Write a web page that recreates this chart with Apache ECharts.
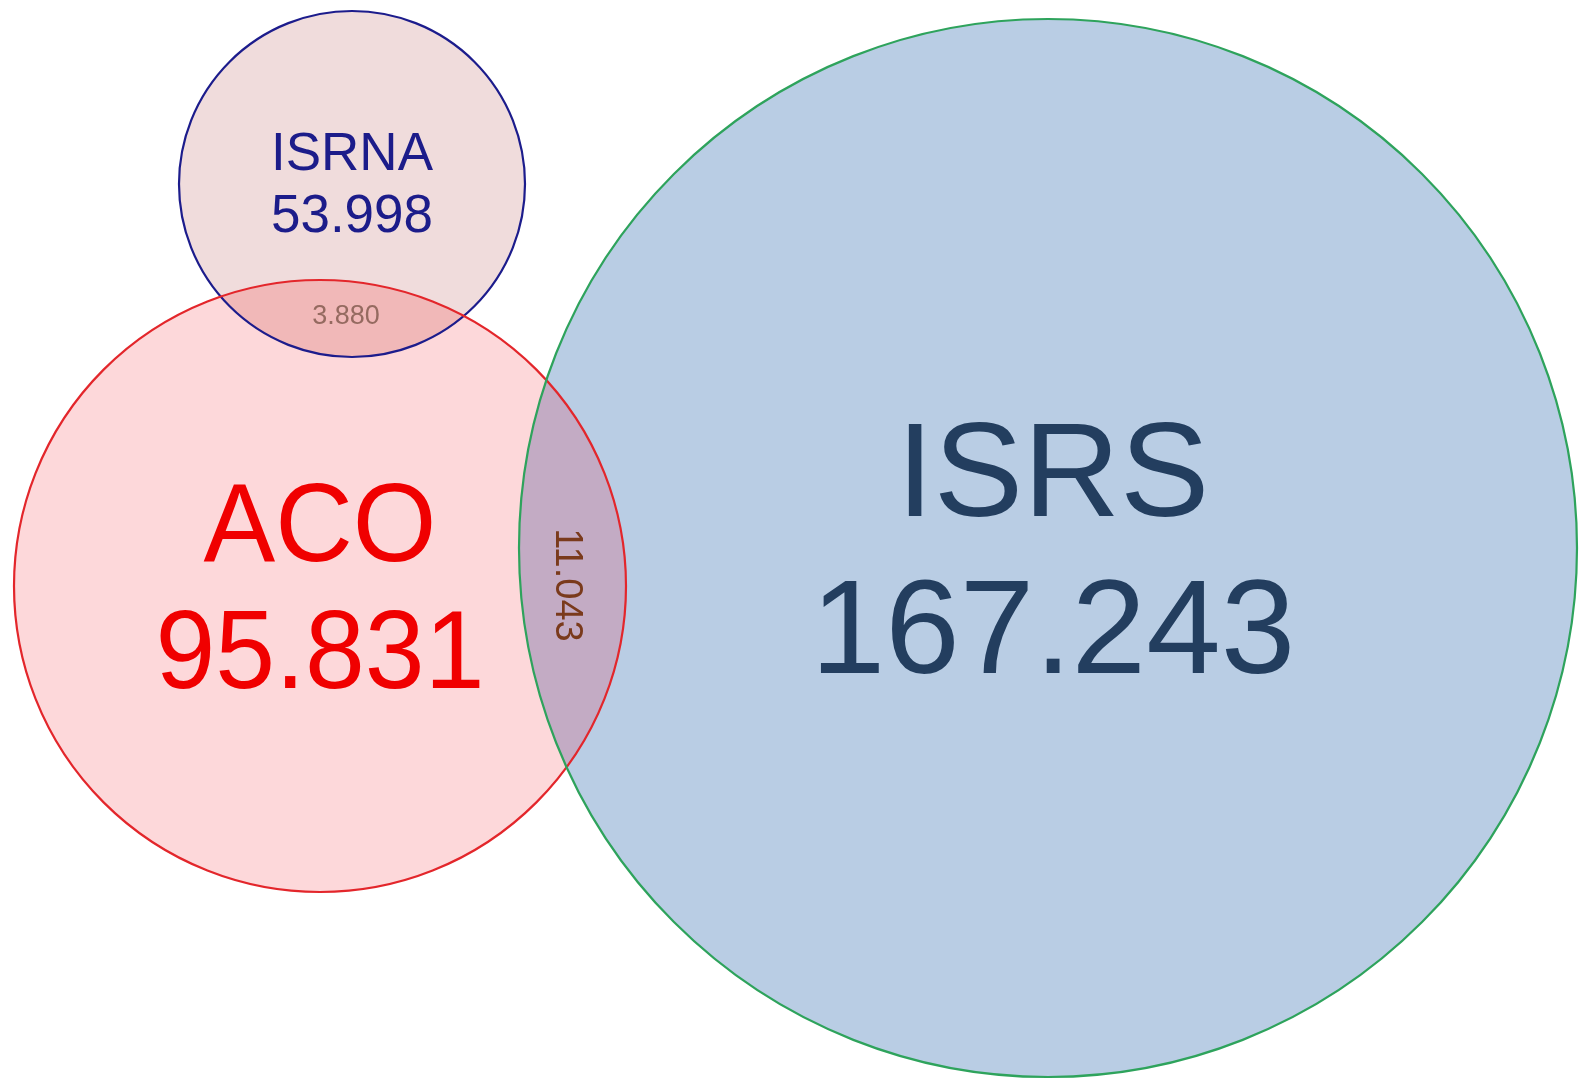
<!DOCTYPE html>
<html>
<head>
<meta charset="utf-8">
<script src="https://cdn.jsdelivr.net/npm/echarts@6/dist/echarts.min.js"></script>
<style>
html,body{margin:0;padding:0;background:#fff;}
#chart{width:1579px;height:1083px;}
</style>
</head>
<body>
<div id="chart"></div>
<script>
// ---- data ----
const setNames = ['ISRNA', 'ACO', 'ISRS'];
const setValues = [53998, 95831, 167243];
const overlapPairs = [[0, 1], [1, 2]];
const overlapValues = [3880, 11043];

// ---- layout (pixel units of hidden axes) ----
const circleLayout = [
  { cx: 352, cy: 184, r: 173 },
  { cx: 320, cy: 586, r: 306 },
  { cx: 1048, cy: 548, r: 529 }
];
const fillColors = ['#f0dcdc', '#fdd8da', '#b9cde4'];
const strokeColors = ['#1c1c8c', '#e3262b', '#2ea35c'];
const textColors = ['#1c1c8a', '#f00000', '#233e5f'];
const fontSizes = [53, 112, 134];
const lineHeights = [62, 127, 157];
const labelScaleX = [1, 0.96, 1];
const labelPos = [[352, 186], [320, 594], [1053, 558]];
const lensColors = ['#f1b8b8', '#c3abc4'];
const lensLabelPos = [[346, 317], [566, 585]];
const lensFont = [27, 38];
const lensTextColors = ['#956a60', '#7a3a1c'];
const lensRot = [0, -Math.PI / 2];

function fmt(v) {
  return String(v).replace(/\B(?=(\d{3})+(?!\d))/g, '.');
}

const chart = echarts.init(document.getElementById('chart'));

function circlePx(api, i) {
  const c = circleLayout[i];
  const p = api.coord([c.cx, c.cy]);
  const r = api.size([c.r, 0])[0];
  return { x: p[0], y: p[1], r: r };
}

function lensPoints(c1, c2) {
  const dx = c2.x - c1.x, dy = c2.y - c1.y;
  const d = Math.sqrt(dx * dx + dy * dy);
  const a = (c1.r * c1.r - c2.r * c2.r + d * d) / (2 * d);
  const phi = Math.atan2(dy, dx);
  const alpha = Math.acos(Math.max(-1, Math.min(1, a / c1.r)));
  const beta = Math.acos(Math.max(-1, Math.min(1, (d - a) / c2.r)));
  const pts = [];
  const n = 80;
  for (let k = 0; k <= n; k++) {
    const t = phi - alpha + (2 * alpha) * k / n;
    pts.push([c1.x + c1.r * Math.cos(t), c1.y + c1.r * Math.sin(t)]);
  }
  for (let k = 0; k <= n; k++) {
    const t = phi + Math.PI - beta + (2 * beta) * k / n;
    pts.push([c2.x + c2.r * Math.cos(t), c2.y + c2.r * Math.sin(t)]);
  }
  return pts;
}

const idx = setNames.map((_, i) => [i]);
const lensIdx = overlapPairs.map((_, i) => [i]);

chart.setOption({
  animation: false,
  backgroundColor: '#ffffff',
  grid: { left: 0, right: 0, top: 0, bottom: 0 },
  xAxis: { type: 'value', min: 0, max: 1579, show: false },
  yAxis: { type: 'value', min: 0, max: 1083, inverse: true, show: false },
  series: [
    {
      type: 'custom', name: 'fills', data: idx, silent: true,
      renderItem: function (params, api) {
        const i = api.value(0);
        const c = circlePx(api, i);
        return { type: 'circle', shape: { cx: c.x, cy: c.y, r: c.r }, style: { fill: fillColors[i], stroke: null } };
      }
    },
    {
      type: 'custom', name: 'overlaps', data: lensIdx, silent: true,
      renderItem: function (params, api) {
        const j = api.value(0);
        const pr = overlapPairs[j];
        const c1 = circlePx(api, pr[0]), c2 = circlePx(api, pr[1]);
        return { type: 'polygon', shape: { points: lensPoints(c1, c2) }, style: { fill: lensColors[j], stroke: null } };
      }
    },
    {
      type: 'custom', name: 'strokes', data: idx, silent: true,
      renderItem: function (params, api) {
        const i = api.value(0);
        const c = circlePx(api, i);
        return { type: 'circle', shape: { cx: c.x, cy: c.y, r: c.r }, style: { fill: 'none', stroke: strokeColors[i], lineWidth: 2.2 } };
      }
    },
    {
      type: 'custom', name: 'labels', data: idx, silent: true,
      renderItem: function (params, api) {
        const i = api.value(0);
        const p = api.coord(labelPos[i]);
        return {
          type: 'text', x: p[0], y: p[1], scaleX: labelScaleX[i],
          style: {
            text: setNames[i] + '\n' + fmt(setValues[i]),
            fill: textColors[i],
            font: fontSizes[i] + 'px "Liberation Sans", Arial, sans-serif',
            lineHeight: lineHeights[i],
            align: 'center', verticalAlign: 'middle'
          }
        };
      }
    },
    {
      type: 'custom', name: 'overlapLabels', data: lensIdx, silent: true,
      renderItem: function (params, api) {
        const j = api.value(0);
        const p = api.coord(lensLabelPos[j]);
        return {
          type: 'text', x: p[0], y: p[1], rotation: lensRot[j],
          style: {
            text: fmt(overlapValues[j]),
            fill: lensTextColors[j],
            font: lensFont[j] + 'px "Liberation Sans", Arial, sans-serif',
            align: 'center', verticalAlign: 'middle'
          }
        };
      }
    }
  ]
});
</script>
</body>
</html>
